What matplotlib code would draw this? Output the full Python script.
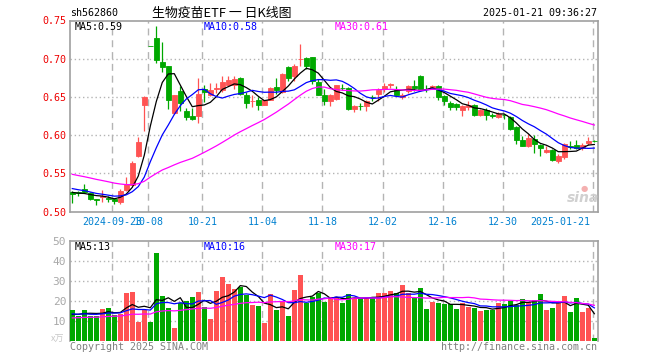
import matplotlib
matplotlib.use('Agg')
import matplotlib.pyplot as plt
import numpy as np
import pandas as pd

# ---------------- data ----------------
holidays = ['2024-09-16', '2024-09-17', '2024-10-01', '2024-10-02', '2024-10-03',
            '2024-10-04', '2024-10-07', '2025-01-01']
dates = [d.strftime('%Y-%m-%d') for d in pd.bdate_range('2024-09-10', '2025-01-21')
         if d.strftime('%Y-%m-%d') not in holidays]

open_ = [0.526, 0.525, 0.530, 0.524, 0.516, 0.519, 0.518, 0.517, 0.513, 0.528,
         0.535, 0.573, 0.639, 0.7168, 0.727, 0.696, 0.690, 0.629, 0.6575, 0.631,
         0.6246, 0.625, 0.660, 0.652, 0.660, 0.659, 0.666, 0.666, 0.675, 0.653,
         0.644, 0.6465, 0.640, 0.6465, 0.663, 0.656, 0.689, 0.677, 0.699, 0.701,
         0.7017, 0.670, 0.652, 0.645, 0.6474, 0.662, 0.662, 0.634, 0.6378, 0.6386,
         0.650, 0.654, 0.660, 0.666, 0.659, 0.650, 0.6578, 0.664, 0.677, 0.6605,
         0.662, 0.664, 0.6518, 0.642, 0.6408, 0.6333, 0.6368, 0.640, 0.6267, 0.6333,
         0.6257, 0.6237, 0.6260, 0.6233, 0.6105, 0.593, 0.586, 0.5952, 0.5873, 0.5781,
         0.5807, 0.5667, 0.5710, 0.5860, 0.5873, 0.5829, 0.5895, 0.5926]
close = [0.523, 0.524, 0.525, 0.517, 0.515, 0.520, 0.517, 0.514, 0.527, 0.536,
         0.564, 0.591, 0.650, 0.7166, 0.698, 0.689, 0.6465, 0.652, 0.642, 0.6237,
         0.6215, 0.654, 0.656, 0.659, 0.661, 0.669, 0.672, 0.674, 0.654, 0.642,
         0.645, 0.639, 0.6455, 0.661, 0.6596, 0.680, 0.675, 0.691, 0.700, 0.691,
         0.6706, 0.653, 0.644, 0.653, 0.665, 0.661, 0.634, 0.6386, 0.6375, 0.644,
         0.6495, 0.659, 0.664, 0.6665, 0.652, 0.653, 0.664, 0.661, 0.6605, 0.6600,
         0.664, 0.650, 0.644, 0.6368, 0.6368, 0.6377, 0.640, 0.6267, 0.6325, 0.6267,
         0.6254, 0.6276, 0.6258, 0.6079, 0.593, 0.586, 0.5961, 0.5882, 0.5829, 0.5807,
         0.5675, 0.572, 0.5886, 0.5842, 0.5829, 0.5873, 0.5917, 0.5925]
high = [0.527, 0.527, 0.536, 0.525, 0.516, 0.528, 0.520, 0.518, 0.529, 0.545,
        0.566, 0.597, 0.651, 0.7168, 0.743, 0.722, 0.690, 0.653, 0.664, 0.6355,
        0.6355, 0.675, 0.666, 0.668, 0.668, 0.677, 0.678, 0.677, 0.676, 0.657,
        0.652, 0.650, 0.6465, 0.663, 0.6746, 0.681, 0.690, 0.6925, 0.719, 0.7026,
        0.7026, 0.673, 0.660, 0.654, 0.666, 0.667, 0.663, 0.6395, 0.642, 0.6456,
        0.653, 0.662, 0.668, 0.668, 0.664, 0.655, 0.666, 0.6715, 0.679, 0.666,
        0.665, 0.665, 0.653, 0.6443, 0.642, 0.640, 0.6443, 0.6412, 0.6342, 0.6355,
        0.629, 0.630, 0.628, 0.6246, 0.6114, 0.599, 0.6018, 0.6004, 0.5886, 0.586,
        0.5816, 0.575, 0.5903, 0.5917, 0.593, 0.5903, 0.598, 0.5939]
low = [0.511, 0.520, 0.524, 0.515, 0.508, 0.512, 0.512, 0.510, 0.510, 0.527,
       0.533, 0.571, 0.606, 0.7166, 0.695, 0.682, 0.634, 0.628, 0.631, 0.620,
       0.620, 0.616, 0.643, 0.651, 0.655, 0.657, 0.664, 0.660, 0.653, 0.636,
       0.637, 0.633, 0.639, 0.6455, 0.654, 0.655, 0.6706, 0.6706, 0.690, 0.687,
       0.6675, 0.652, 0.640, 0.638, 0.6465, 0.659, 0.633, 0.630, 0.633, 0.631,
       0.6443, 0.6443, 0.656, 0.662, 0.652, 0.647, 0.655, 0.6575, 0.6596, 0.657,
       0.661, 0.6465, 0.639, 0.633, 0.633, 0.6246, 0.6333, 0.6255, 0.6246, 0.6197,
       0.6224, 0.6224, 0.621, 0.607, 0.5877, 0.5853, 0.5843, 0.5772, 0.5728, 0.5763,
       0.5662, 0.564, 0.5684, 0.5816, 0.5816, 0.5807, 0.5873, 0.5908]
volume = [15.3, 12.5, 15.3, 12.5, 12.5, 15.8, 16.3, 12.8, 13.2, 23.8,
          24.3, 9.5, 15.3, 9.5, 44.0, 22.3, 16.2, 6.3, 18.7, 19.8,
          21.8, 24.3, 16.7, 10.8, 25.0, 31.8, 28.2, 25.7, 27.0, 22.8,
          17.8, 17.3, 9.0, 23.3, 15.3, 19.8, 12.3, 25.3, 32.8, 19.0,
          22.0, 24.0, 19.5, 21.7, 21.7, 18.7, 23.3, 21.5, 21.2, 21.2,
          21.2, 23.7, 23.7, 24.8, 23.7, 27.7, 24.0, 21.2, 26.5, 15.8,
          19.5, 19.0, 18.3, 18.3, 15.8, 19.0, 17.0, 16.5, 14.8, 15.3,
          15.3, 19.0, 18.3, 19.8, 17.8, 20.8, 19.2, 20.3, 23.3, 15.3,
          16.5, 19.2, 22.3, 14.3, 21.2, 14.3, 16.5, 1.2]
# closes / volumes of the 29 sessions before the window (estimated from MA starts)
prior_close = [0.572, 0.570, 0.568, 0.569, 0.566, 0.565, 0.566, 0.563, 0.561,
               0.560, 0.558, 0.556, 0.554, 0.553, 0.552, 0.550, 0.548, 0.546,
               0.543, 0.540, 0.539, 0.537, 0.535, 0.533, 0.531, 0.529, 0.527,
               0.524, 0.522]
prior_volume = [9.5, 11.2, 10.1, 12.0, 9.8, 10.5, 8.9, 11.4, 10.2, 9.6, 10.8, 11.5,
                9.9, 10.3, 10.7, 9.4, 11.0, 10.6, 9.7, 10.9, 14.2, 13.1, 14.8,
                12.9, 13.5, 12.0, 13.4, 11.8, 13.0]

tick_dates = ['2024-09-23', '2024-10-08', '2024-10-21', '2024-11-04', '2024-11-18',
              '2024-12-02', '2024-12-16', '2024-12-30', '2025-01-21']
tick_labels = ['2024-09-23', '10-08', '10-21', '11-04', '11-18',
               '12-02', '12-16', '12-30', '2025-01-21']
price_ticks = [0.50, 0.55, 0.60, 0.65, 0.70, 0.75]
vol_ticks = [10, 20, 30, 40, 50]
ma_periods = [5, 10, 30]
ma_colors = ['#000000', '#0000ff', '#ff00ff']
price_legend = ['MA5:0.59', 'MA10:0.58', 'MA30:0.61']
vol_legend = ['MA5:13', 'MA10:16', 'MA30:17']

# ---------------- figure ----------------
W, H = 660, 360
fig = plt.figure(figsize=(W / 100, H / 100), dpi=100)
fig.patch.set_facecolor('white')

def px(x0, y0, x1, y1):
    return [x0 / W, 1 - y1 / H, (x1 - x0) / W, (y1 - y0) / H]

ax = fig.add_axes(px(70.3, 20.5, 597.5, 211.5))
axv = fig.add_axes(px(70.3, 240.7, 597.5, 340.7))

n = len(close)
xs = np.arange(n)
RED, GREEN = '#ff5353', '#00a800'
cols = [RED if c > o else GREEN for o, c in zip(open_, close)]
grid_c = '#b4b4b4'
mono = 'DejaVu Sans Mono'
fs = 7.2

xlim = (-0.33, 87.53)
for a in (ax, axv):
    a.set_xlim(*xlim)
    for s in a.spines.values():
        s.set_color('#a0a0a0')
        s.set_linewidth(1.2)
    a.set_xticks([])
    a.tick_params(axis='y', length=0, pad=3)

# vertical dashed grid lines
tick_idx = [dates.index(d) for d in tick_dates]
for a in (ax, axv):
    for ti in tick_idx:
        a.axvline(ti - 0.3, color=grid_c, lw=1.0, ls=(0, (5, 3.5)), zorder=0)

# price panel
ax.set_ylim(0.50, 0.75)
for p in price_ticks[1:-1]:
    ax.axhline(p, color=grid_c, lw=1.0, ls=(0, (1, 2)), zorder=0)
ax.set_yticks(price_ticks)
ax.set_yticklabels(['%.2f' % p for p in price_ticks], color='#ee0000',
                   fontsize=fs, family=mono)

ax.vlines(xs, low, high, colors=cols, lw=0.9, zorder=2)
body_b = [min(o, c) for o, c in zip(open_, close)]
body_h = [abs(c - o) for o, c in zip(open_, close)]
ax.bar(xs, body_h, bottom=body_b, width=0.82, color=cols, edgecolor=cols,
       linewidth=0.6, zorder=3)

full_close = pd.Series(prior_close + close)
full_vol = pd.Series(prior_volume + volume)
for per, col in zip(ma_periods, ma_colors):
    ma = full_close.rolling(per).mean().values[-n:]
    ax.plot(xs, ma, color=col, lw=0.9, zorder=4)
    mv = full_vol.rolling(per).mean().values[-n:]
    axv.plot(xs, mv, color=col, lw=0.9, zorder=4)

# volume panel
axv.set_ylim(0, 50)
for v in vol_ticks[:-1]:
    axv.axhline(v, color=grid_c, lw=1.0, ls=(0, (1, 2)), zorder=0)
axv.set_yticks(vol_ticks)
axv.set_yticklabels([str(v) for v in vol_ticks], color='#a8a8a8',
                    fontsize=fs + 0.8, family=mono)
axv.bar(xs, volume, width=0.82, color=cols, linewidth=0, zorder=3)
axv.spines['bottom'].set_visible(False)

# date labels
for ti, lab in zip(tick_idx, tick_labels):
    xp = 72.3 + 6 * (ti - 0.3)
    if ti == tick_idx[-1]:
        fig.text(590 / W, 1 - 222 / H, lab, ha='right', va='center', color='#0080d0',
                 fontsize=fs, family=mono)
    else:
        fig.text(xp / W, 1 - 222 / H, lab, ha='center', va='center', color='#0080d0',
                 fontsize=fs, family=mono)

# legends
leg_x = [75, 204, 335]
for lx, t, c in zip(leg_x, price_legend, ma_colors):
    fig.text(lx / W, 1 - 26.5 / H, t, ha='left', va='center', color=c, fontsize=fs, family=mono)
for lx, t, c in zip(leg_x, vol_legend, ma_colors):
    fig.text(lx / W, 1 - 246.5 / H, t, ha='left', va='center', color=c, fontsize=fs, family=mono)

# header
fig.text(70 / W, 1 - 13 / H, 'sh562860', ha='left', va='center', fontsize=fs, family=mono,
         color='black')
fig.text(222 / W, 1 - 13 / H, '生物疫苗ETF 一 日K线图', ha='center', va='center',
         fontsize=9.3, family=['Noto Sans CJK SC', 'DejaVu Sans'], color='black')
fig.text(597 / W, 1 - 13 / H, '2025-01-21 09:36:27', ha='right', va='center',
         fontsize=fs, family=mono, color='black')

# footer
fig.text(70 / W, 1 - 346.5 / H, 'Copyright 2025 SINA.COM', ha='left', va='center',
         fontsize=fs, family=mono, color='#808080')
fig.text(597 / W, 1 - 346.5 / H, 'http://finance.sina.com.cn', ha='right', va='center',
         fontsize=fs, family=mono, color='#808080')
fig.text(64 / W, 1 - 339.5 / H, 'x万', ha='right', va='center', fontsize=6.5,
         family=['Noto Sans CJK SC', 'DejaVu Sans'], color='#c8c8c8')

# watermark
fig.text(583 / W, 1 - 198 / H, 'sina', ha='center', va='center', fontsize=10,
         fontstyle='italic', fontweight='bold', color='#d0d0d0')
fig.text(584 / W, 1 - 188 / H, '●', ha='center', va='center', fontsize=6,
         color='#f4b0b0')

fig.savefig('out.png', dpi=100, facecolor='white')
